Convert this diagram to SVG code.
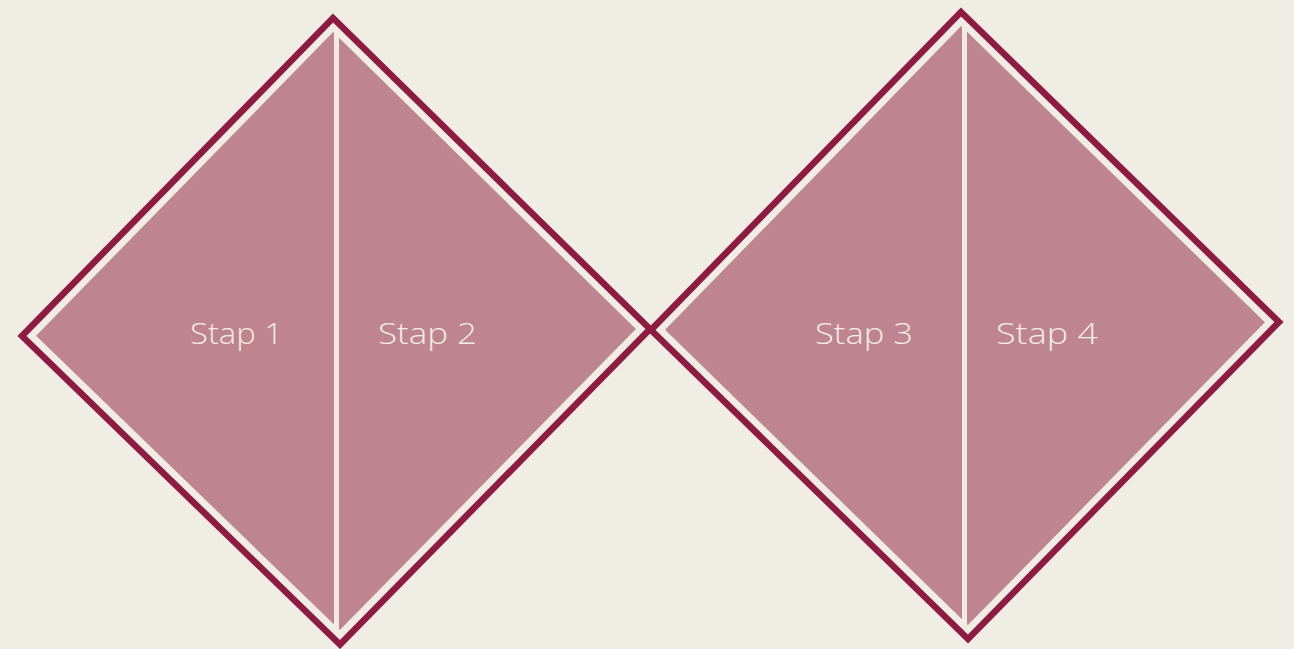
<svg xmlns="http://www.w3.org/2000/svg" width="1294" height="649" viewBox="0 0 1294 649">
  <style>
    .frame { fill: none; stroke: #8E1B41; stroke-width: 6.5; stroke-linejoin: miter; }
    .fill { fill: #BE848F; stroke: none; }
    .divider { stroke: #F0ECE4; stroke-width: 5; }
    .label { font-family: "Open Sans", "Liberation Sans", sans-serif; font-weight: 300; font-size: 30px; fill: #F3EEE6; }
  </style>
  <rect x="0" y="0" width="1294" height="649" fill="#F0EDE5"/>
  <g id="diamond-left">
    <polygon class="fill" points="333.1,32.1 36.1,335.8 339.8,630 635.9,329.1"/>
    <line class="divider" x1="336.5" y1="20" x2="336.5" y2="642"/>
    <polygon class="frame" points="333,18 22,336 340,644.5 650,329"/>
  </g>
  <g id="diamond-right">
    <polygon class="fill" points="961.2,26.1 665.1,329.8 967.9,625 1264.9,322.2"/>
    <line class="divider" x1="964.5" y1="14" x2="964.5" y2="637"/>
    <polygon class="frame" points="961,12 651,330 968,639 1279,322"/>
  </g>
  <g id="stap-1"><text class="label" x="190" y="344" textLength="93" lengthAdjust="spacingAndGlyphs">Stap 1</text></g>
  <g id="stap-2"><text class="label" x="378" y="344" textLength="99" lengthAdjust="spacingAndGlyphs">Stap 2</text></g>
  <g id="stap-3"><text class="label" x="815" y="344" textLength="98" lengthAdjust="spacingAndGlyphs">Stap 3</text></g>
  <g id="stap-4"><text class="label" x="996" y="344" textLength="102" lengthAdjust="spacingAndGlyphs">Stap 4</text></g>
  <g id="connectors"></g>
</svg>
